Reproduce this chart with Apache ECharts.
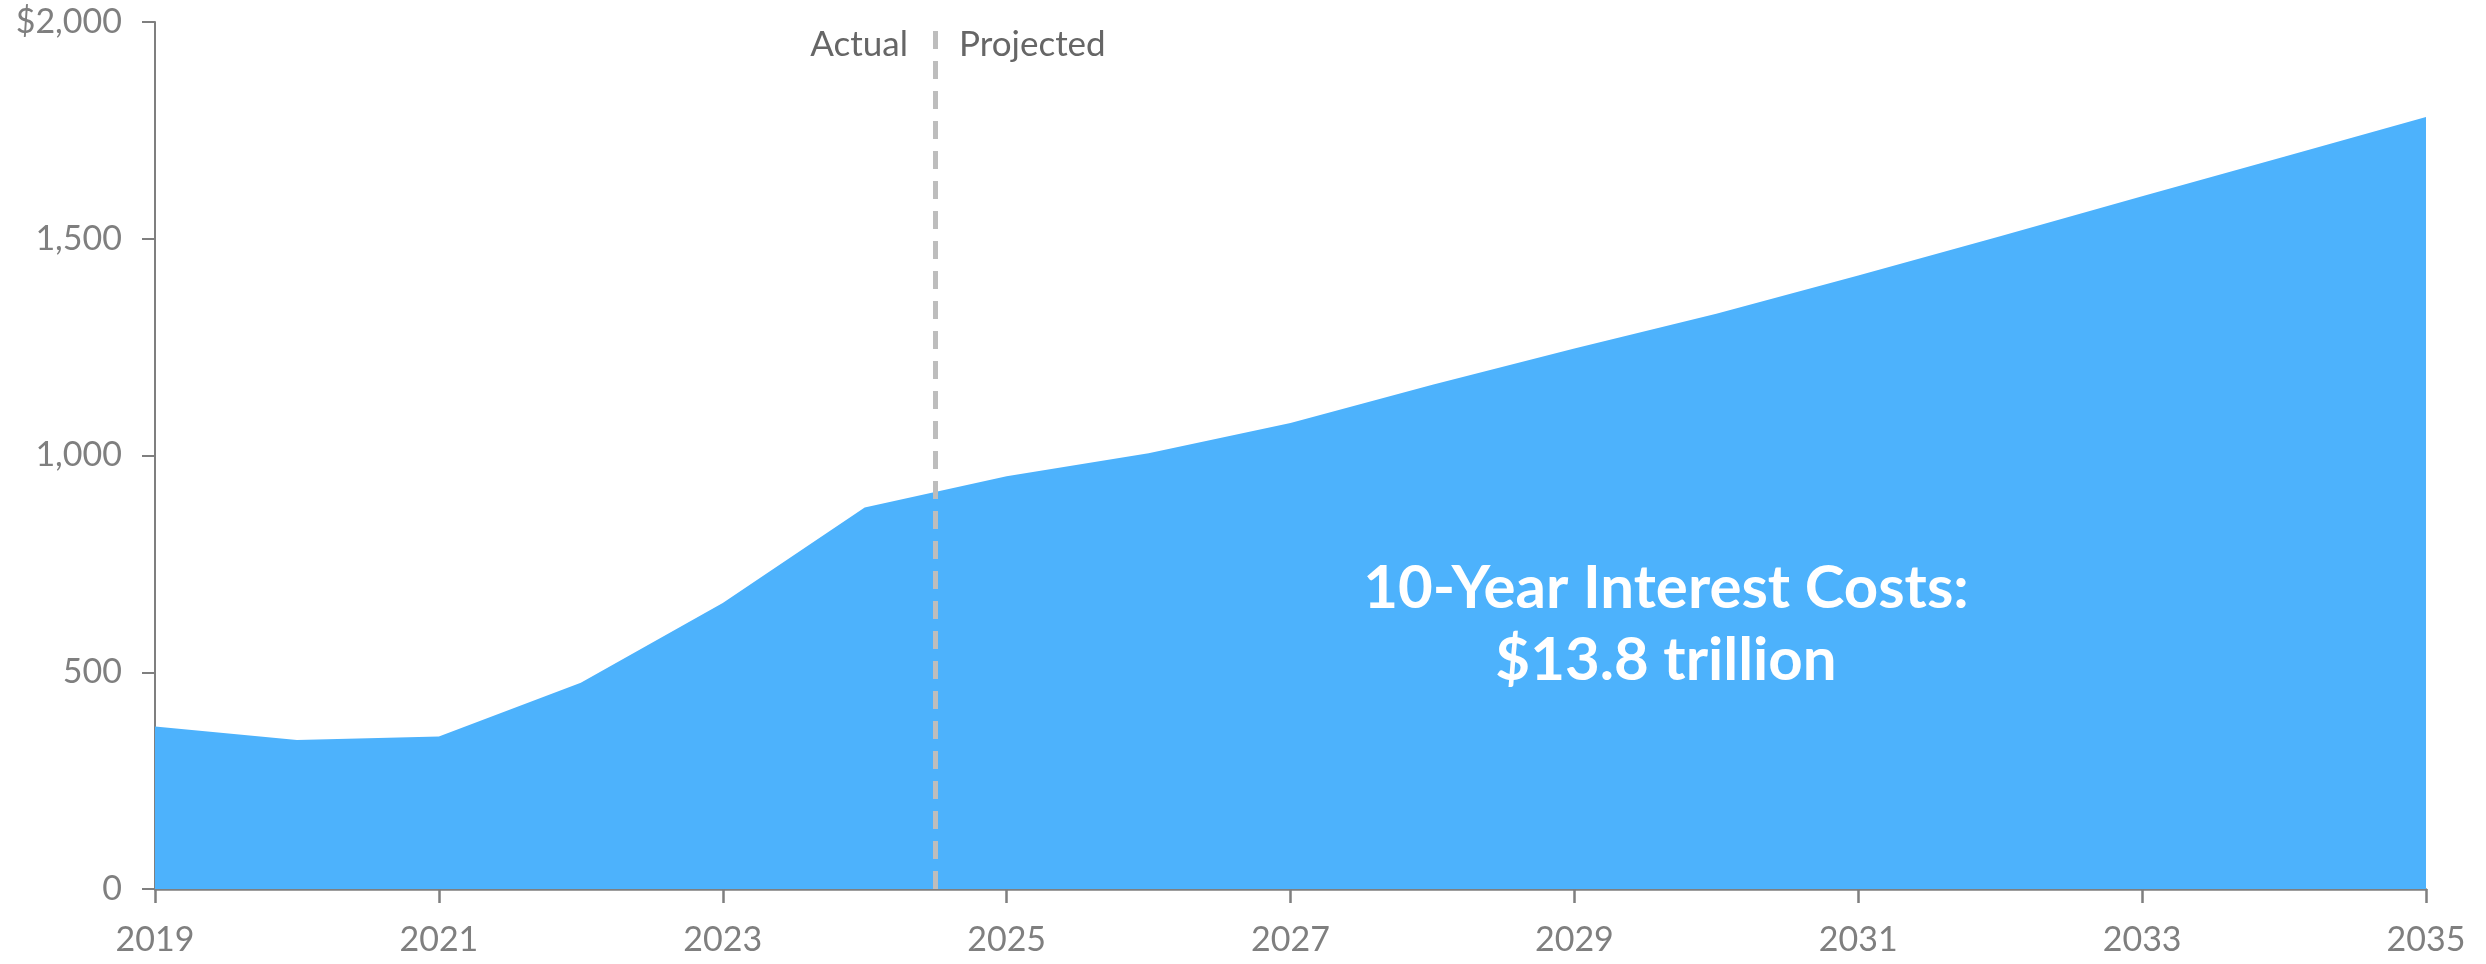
<!DOCTYPE html>
<html>
<head>
<meta charset="utf-8">
<script src="https://cdn.jsdelivr.net/npm/echarts@6/dist/echarts.min.js"></script>
<style>
html,body{margin:0;padding:0;background:#fff;}
#chart{width:2486px;height:964px;}
</style>
</head>
<body>
<div id="chart"></div>
<script>
const years = [2019,2020,2021,2022,2023,2024,2025,2026,2027,2028,2029,2030,2031,2032,2033,2034,2035];
const interestCosts = [375,344,352,476,660,880,952,1005,1075,1163,1247,1327,1415,1506,1598,1689,1781];
const yTicks = ['0','500','1,000','1,500','$2,000'];
const dividerYear = 2024.5;
const leftLabel = 'Actual';
const rightLabel = 'Projected';
const annotation = '10-Year Interest Costs:\n$13.8 trillion';

const chart = echarts.init(document.getElementById('chart'));
const FONT = 'Lato';
const axisGray = '#7f7f7f';
chart.setOption({
  animation: false,
  grid: {left: 155, right: 60, top: 22, bottom: 75, containLabel: false},
  xAxis: {
    type: 'value', min: 2019, max: 2035, interval: 2,
    splitLine: {show: false},
    axisLine: {lineStyle: {color: axisGray, width: 2.5}},
    axisTick: {length: 14, lineStyle: {color: axisGray, width: 2.5}},
    axisLabel: {color: axisGray, fontFamily: FONT, fontSize: 34, margin: 34,
      formatter: v => String(v)}
  },
  yAxis: {
    type: 'value', min: 0, max: 2000, interval: 500,
    splitLine: {show: false},
    axisLine: {show: true, lineStyle: {color: axisGray, width: 2}},
    axisTick: {show: true, length: 13, lineStyle: {color: axisGray, width: 2}},
    axisLabel: {color: axisGray, fontFamily: FONT, fontSize: 34, margin: 33,
      formatter: v => yTicks[Math.round(v / 500)]}
  },
  series: [{
    type: 'line',
    data: years.map((y, i) => [y, interestCosts[i]]),
    showSymbol: false,
    lineStyle: {width: 0},
    areaStyle: {color: '#4db2fc', opacity: 1},
    z: 2,
    markLine: {
      silent: true, symbol: 'none',
      lineStyle: {color: '#bdbdbd', type: [18, 12], width: 5},
      label: {show: false},
      data: [{xAxis: dividerYear}],
      z: 5
    }
  }],
  graphic: [
    {type: 'text', z: 10, style: {x: 908, y: 45, text: leftLabel, textAlign: 'right', textVerticalAlign: 'middle',
      fill: '#666', font: '35px Lato'}},
    {type: 'text', z: 10, style: {x: 959, y: 45, text: rightLabel, textAlign: 'left', textVerticalAlign: 'middle',
      fill: '#666', font: '35px Lato'}},
    {type: 'text', z: 10, style: {x: 1666, y: 625, text: annotation, textAlign: 'center', textVerticalAlign: 'middle',
      fill: '#ffffff', font: 'bold 60px Lato', lineHeight: 72}}
  ]
});
</script>
</body>
</html>
